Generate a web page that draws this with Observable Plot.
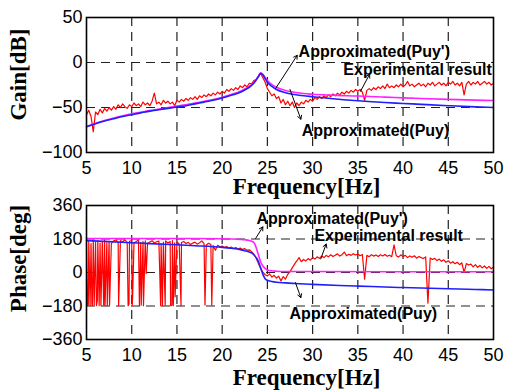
<!DOCTYPE html>
<html><head><meta charset="utf-8">
<script src="https://cdn.jsdelivr.net/npm/d3@7"></script>
<script src="https://cdn.jsdelivr.net/npm/@observablehq/plot@0.6"></script>
<style>
body{margin:0;background:#fff;}
#chart{width:506px;height:390px;overflow:hidden;}
#chart svg{display:block;}
</style>
</head><body><div id="chart"></div>
<script>
// ---- tick labels ----
const xTicks = [5,10,15,20,25,30,35,40,45,50];
const xGrid = [10,15,20,25,30,35,40,45];
const gainTicks = [-100,-50,0,50];
const gainGrid = [-50,0];
const phaseTicks = [-360,-180,0,180,360];
const phaseGrid = [-180,0,180];

// ---- experimental result (sample frequencies, Hz) ----
const expFreq = [5,5.25,5.5,5.75,6,6.25,6.5,6.75,7,7.25,7.5,7.75,8,8.25,8.5,8.75,9,9.25,9.5,9.75,
10,10.25,10.5,10.75,11,11.25,11.5,11.75,12,12.25,12.5,12.75,13,13.25,13.5,13.75,14,14.25,14.5,14.75,
15,15.25,15.5,15.75,16,16.25,16.5,16.75,17,17.25,17.5,17.75,18,18.25,18.5,18.75,19,19.25,19.5,19.75,
20,20.25,20.5,20.75,21,21.25,21.5,21.75,22,22.25,22.5,22.75,23,23.25,23.5,23.75,24,24.25,24.5,24.75,
25,25.25,25.5,25.75,26,26.25,26.5,26.75,27,27.25,27.5,27.75,28,28.25,28.5,28.75,29,29.25,29.5,29.75,
30,30.25,30.5,30.75,31,31.25,31.5,31.75,32,32.25,32.5,32.75,33,33.25,33.5,33.75,34,34.25,34.5,34.75,
35,35.25,35.5,35.75,36,36.25,36.5,36.75,37,37.25,37.5,37.75,38,38.25,38.5,38.75,39,39.25,39.5,39.75,
40,40.25,40.5,40.75,41,41.25,41.5,41.75,42,42.25,42.5,42.75,43,43.25,43.5,43.75,44,44.25,44.5,44.75,
45,45.25,45.5,45.75,46,46.25,46.5,46.75,47,47.25,47.5,47.75,48,48.25,48.5,48.75,49,49.25,49.5,49.75,50];
// gain [dB]
const expGain = [-58,-53,-60,-77, -55,-58,-52,-56, -51,-54,-50,-53, -49,-52,-47,-50, -46,-49,-51,-47,
-49,-45,-48,-46, -49,-44,-47,-45, -48,-43,-34,-46, -44,-47,-42,-45, -43,-46,-44,-48,
-42,-44,-41,-43, -40,-42,-39,-41, -38,-41,-37,-39, -36,-38,-35,-37, -34,-36,-33,-35,
-32,-34,-30,-32, -29,-31,-28,-30, -26,-28,-25,-27, -23,-24,-20,-19, -15,-12,-17,-22,
-29,-33,-37,-35, -40,-38,-45,-41, -47,-43,-48,-44, -50,-45,-48,-44, -46,-42,-44,-41,
-43,-39,-41,-38, -40,-37,-39,-36, -38,-35,-37,-34, -36,-33,-35,-32, -34,-31,-33,-30,
-32,-30,-33,-42, -31,-29,-31,-28, -30,-27,-29,-26, -29,-24,-28,-26, -28,-25,-27,-24,
-27,-25,-21,-26, -24,-27,-25,-23, -26,-24,-27,-23, -25,-22,-26,-24, -22,-25,-23,-26,
-22,-24,-21,-25, -23,-26,-22,-36, -24,-21,-25,-22, -24,-21,-25,-23, -21,-24,-22,-25, -23];
// phase [deg]
const expPhase = [160,168,155,172, 162,170,158,166, 174,160,168,156, 170,175,162,171, 165,176,160,168,
172,158,167,175, 161,166,170,157, 164,171,158,165, 169,155,163,170, 158,166,172,159,
164,153,161,167, 156,162,150,158, 163,152,160,170, 155,148,157,150, 145,120,146,138,
142,134,140,131, 137,129,134,126, 131,124,128,120, 122,112,98,78, 50,22,2,-12,
-18,-8,-25,-15, -30,-20,-45,-22, -35,-10,5,25, 45,62,80,58, 70,62,75,66,
80,72,84,76, 88,80,92,84, 95,86,93,100, 88,96,110,90, 98,92,101,94,
99,90,97,-36, 92,85,96,88, 94,86,95,89, 97,87,93,85, 148,90,83,95,
86,92,80,89, 82,90,77,86, 80,75,84,-165, 78,70,76,64, 72,60,68,55,
63,50,58,47, 55,42,52,0, 48,40,45,30, 42,28,38,25, 35,22,33,20, 30];
// phase wrap-around drops of the experimental result
const phaseDropFreq = [5.1,5.2,5.4,5.6,5.65,5.85,6.1,6.2,6.4,6.6,6.9,7.05,7.3,7.55,8.55,9.6,9.7,10.05,10.1,10.85,
11.05,11.3,11.6,13.2,13.4,13.7,14.3,14.45,14.6,14.8,15.45,18.1,18.85];
const phaseDropVal = [-178,-175,-178,-170,-178,-176,-178,-150,-178,-178,-175,-178,-178,-176,-178,-178,-170,-178,-130,-178,
-176,-178,-5,-178,-178,-176,-178,-176,-178,-130,-178,-175,-176];

// ---- Approximated(Puy) ----
const puyGainFreq = [5,6,7,8,9,10,11,12,13,14,15,16,17,18,19,20,21,22,22.5,23,23.5,24,24.25,24.5,24.75,25,25.5,26,27,28,29,30,32,35,38,40,42,45,48,50];
const puyGain = [-71.5,-68,-65,-62.5,-60,-58,-56,-54,-52.5,-51,-49.5,-48,-46,-44,-42,-39.5,-36.5,-33,-30.5,-27.5,-23,-16,-12,-14,-18,-22,-26.5,-30,-33.5,-35.5,-37,-38,-40,-42.5,-44.5,-45.5,-46.5,-48,-49.3,-50];
const puyPhaseFreq = [5,7,10,12,15,17,20,21,22,22.5,23,23.5,24,24.25,24.5,24.75,25,25.5,26,27,28,30,33,35,38,40,43,45,48,50];
const puyPhase = [171,167,160,155,149,144,135,130,123,117,110,96,60,25,-10,-33,-42,-48,-52,-56,-59,-64,-70,-73,-78,-81,-85,-87,-91,-94];

// ---- Approximated(Puy') ----
const puyPGainFreq = [5,7,10,12,15,17,20,21,22,22.5,23,23.5,24,24.25,24.5,24.75,25,25.5,26,27,28,29,30,32,35,38,40,42,45,48,50];
const puyPGain = [-71,-64.5,-57,-53.5,-48.5,-45,-38.5,-35.5,-32,-29.5,-26.5,-22.5,-15.5,-11.5,-13,-16.5,-20,-24.5,-27.5,-31,-33,-34.5,-35.3,-36.3,-37.3,-38.5,-39.3,-40,-41,-41.8,-42.3];
const puyPPhaseFreq = [5,10,15,20,21,22,22.5,23,23.5,23.75,24,24.25,24.5,24.75,25,25.5,26,27,30,40,50];
const puyPPhase = [183,183,183,181,180,178,176,172,162,135,95,58,35,22,14,9,7,5,5,4,4];

// ---- annotations ----
const noteText = ["Approximated(Puy')", "Experimental result", "Approximated(Puy)"];
const gainNoteFreq = [28.45, 33.4, 28.8];
const gainNoteVal = [11.4, -8.6, -76];
const gainArrowFromF = [25.9, 35.3, 27.5], gainArrowFromV = [-29, -32, -30];
const gainArrowToF = [28.3, 36.3, 28.7], gainArrowToV = [8, -13, -63];
const phaseNoteFreq = [23.8, 30.2, 27.45];
const phaseNoteVal = [289, 198, -223];
const phaseArrowFromF = [23.7, 30.9, 28.1], phaseArrowFromV = [183, 73, -54];
const phaseArrowToF = [24.5, 31.5, 28.7], phaseArrowToV = [245, 153, -135];

const xLabel = "Frequency[Hz]";
const gainLabel = "Gain[dB]";
const phaseLabel = "Phase[deg]";

const RED = "#ff0000", MAG = "#ff22ff", BLUE = "#1f1fff";
const serif = "'Liberation Serif', 'DejaVu Serif', serif";
const sans = "'Liberation Sans', Arial, sans-serif";

function pts(fs, vs) { return fs.map((f, i) => ({f, v: vs[i]})); }

const expGainData = pts(expFreq, expGain);
const expPhaseData = pts(expFreq, expPhase).concat(pts(phaseDropFreq, phaseDropVal)).sort((a, b) => a.f - b.f);
const idx = [0, 1, 2];

function panel({height, marginTop, marginBottom, yDomain, yTicks, yGrid, series, notesF, notesV, aF1, aV1, aF2, aV2, yLabel, yLabelDy, xLabelDy}) {
  return Plot.plot({
    width: 506, height, marginLeft: 86, marginRight: 13, marginTop, marginBottom,
    style: {fontFamily: sans, fontSize: "18px", background: "white", color: "black", overflow: "visible"},
    x: {domain: [5, 50]},
    y: {domain: yDomain},
    marks: [
      Plot.gridX(xGrid, {stroke: "#222", strokeOpacity: 1, strokeWidth: 1.2, strokeDasharray: "9,6"}),
      Plot.gridY(yGrid, {stroke: "#222", strokeOpacity: 1, strokeWidth: 1.2, strokeDasharray: "9,6"}),
      Plot.axisX(xTicks, {tickSize: 0, tickPadding: 9, fontSize: 18, label: null}),
      Plot.axisY(yTicks, {tickSize: 0, tickPadding: 4, fontSize: 18, label: null}),
      Plot.line(series[0], {x: "f", y: "v", stroke: RED, strokeWidth: 1.2}),
      Plot.line(series[1], {x: "f", y: "v", stroke: MAG, strokeWidth: 1.6, curve: "monotone-x"}),
      Plot.line(series[2], {x: "f", y: "v", stroke: BLUE, strokeWidth: 1.6, curve: "monotone-x"}),
      Plot.arrow(idx, {x1: aF1, y1: aV1, x2: aF2, y2: aV2, stroke: "black", strokeWidth: 1, headLength: 6}),
      Plot.text(noteText, {x: notesF, y: notesV, text: d => d, textAnchor: "start", fontFamily: sans, fontWeight: "bold", fontSize: 16, fill: "black"}),
      Plot.frame({stroke: "black", strokeWidth: 1.6}),
      Plot.text([xLabel], {frameAnchor: "bottom", textAnchor: "middle", lineAnchor: "middle", dy: xLabelDy, dx: 16.5, fontFamily: serif, fontWeight: "bold", fontSize: 23, fill: "black"}),
      Plot.text([yLabel], {frameAnchor: "left", textAnchor: "middle", lineAnchor: "middle", rotate: -90, dx: -68, dy: yLabelDy, fontFamily: serif, fontWeight: "bold", fontSize: 23, fill: "black"})
    ]
  });
}

const gainChart = panel({
  height: 195, marginTop: 17, marginBottom: 43,
  yDomain: [-100, 50], yTicks: gainTicks, yGrid: gainGrid,
  series: [expGainData, pts(puyPGainFreq, puyPGain), pts(puyGainFreq, puyGain)],
  notesF: gainNoteFreq, notesV: gainNoteVal,
  aF1: gainArrowFromF, aV1: gainArrowFromV, aF2: gainArrowToF, aV2: gainArrowToV,
  yLabel: gainLabel, yLabelDy: -10.5, xLabelDy: 34.6
});
const phaseChart = panel({
  height: 195, marginTop: 10, marginBottom: 51,
  yDomain: [-360, 360], yTicks: phaseTicks, yGrid: phaseGrid,
  series: [expPhaseData, pts(puyPPhaseFreq, puyPPhase), pts(puyPhaseFreq, puyPhase)],
  notesF: phaseNoteFreq, notesV: phaseNoteVal,
  aF1: phaseArrowFromF, aV1: phaseArrowFromV, aF2: phaseArrowToF, aV2: phaseArrowToV,
  yLabel: phaseLabel, yLabelDy: -14, xLabelDy: 38.6
});
const chartDiv = document.getElementById("chart");
chartDiv.appendChild(gainChart);
chartDiv.appendChild(phaseChart);
</script>
</body></html>
